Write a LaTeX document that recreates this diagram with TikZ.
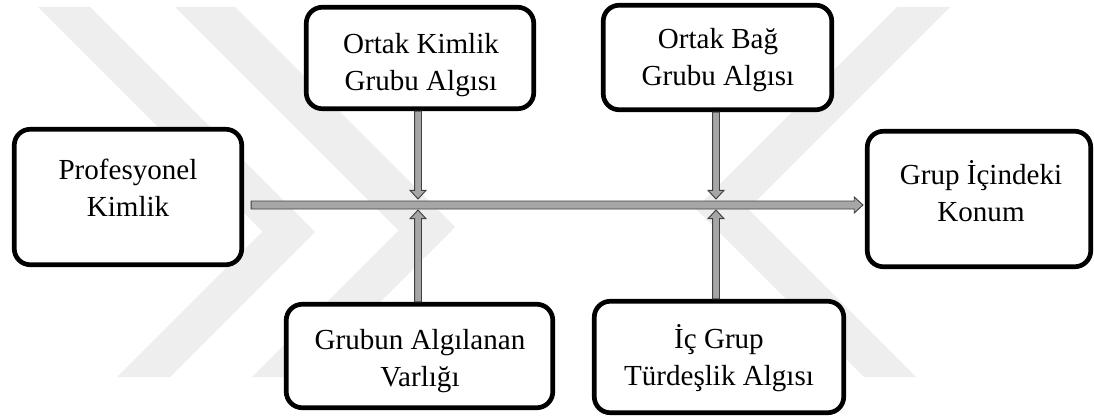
\documentclass[tikz,border=0pt]{standalone}
\usepackage{fontspec}
\setmainfont{Liberation Serif}
\usetikzlibrary{calc}
\definecolor{arrowfill}{HTML}{A6A6A6}
\definecolor{arrowline}{HTML}{404040}
\definecolor{wmgray}{HTML}{EEEEEE}
\tikzset{
  box/.style={draw=black, line width=3.5pt, rounded corners=12pt, fill=white, inner sep=0pt},
  lbl/.style={align=center, font=\fontsize{21.8}{27.5}\selectfont, inner sep=0pt},
  barrow/.style={fill=arrowfill, draw=arrowline, line width=0.7pt, line join=miter},
  wm/.style={fill=wmgray, draw=none},
}
\newcommand\blockarr[4]{%
  \path ($(#2)!6.5pt!(#1)$) coordinate (ba-h);
  \draw[barrow] ($(#1)!#3!90:(#2)$) -- ($(ba-h)!#3!-90:(#1)$) -- ($(ba-h)!#4!-90:(#1)$) -- (#2)
    -- ($(ba-h)!#4!90:(#1)$) -- ($(ba-h)!#3!90:(#1)$) -- ($(#1)!#3!-90:(#2)$) -- cycle;}
\begin{document}
\begin{tikzpicture}[x=0.75pt, y=-0.75pt]
\useasboundingbox (0,0) rectangle (1094,417);
\fill[white] (0,0) rectangle (1094,417);
% watermark
\begin{scope}
  \clip (0,7) rectangle (1094,377);
  \fill[wm] (38,7) -- (90,7) -- (315,232) -- (170,377) -- (117,377) -- (262.5,231.5) -- cycle;
  \fill[wm] (175,7) -- (235,7) -- (455,227) -- (305,377) -- (252,377) -- (398.5,230.5) -- cycle;
  \fill[wm] (897,7) -- (950,7) -- (748,209) -- (916,377) -- (864,377) -- (695.5,208.5) -- cycle;
\end{scope}
% boxes
\node[box, minimum width=170.6pt, minimum height=101.6pt] (prof) at (128,197) {};
\node[box, minimum width=170.6pt, minimum height=76.1pt] (ok) at (420,58) {};
\node[box, minimum width=171.4pt, minimum height=78.4pt] (ob) at (717.5,57.5) {};
\node[box, minimum width=167.6pt, minimum height=101.6pt] (gic) at (979,199) {};
\node[box, minimum width=199.9pt, minimum height=77.6pt] (gav) at (419.5,356) {};
\node[box, minimum width=187.1pt, minimum height=83.6pt] (icg) at (719,357) {};
% labels
\node[lbl] (profT) at (128,188) {Profesyonel\\Kimlik};
\node[lbl] (okT) at (421,65) {Ortak Kimlik\\Grubu Algısı};
\node[lbl] (obT) at (718,60) {Ortak Bağ\\Grubu Algısı};
\node[lbl] (gicT) at (981,191) {Grup İçindeki\\Konum};
\node[lbl] (gavT) at (420,361) {Grubun Algılanan\\Varlığı};
\node[lbl] (icgT) at (719,358) {İç Grup\\Türdeşlik Algısı};
% junctions
\coordinate (j1) at (418,205);
\coordinate (j2) at (716,205);
\coordinate (hs) at ($(prof.east |- j1)+(7,0)$);
\coordinate (he) at ($(gic.west |- j1)+(-2,0)$);
\coordinate (d1s) at (ok.south -| j1);
\coordinate (d1e) at ($(j1)+(0,-6)$);
\coordinate (u1s) at (gav.north -| j1);
\coordinate (u1e) at ($(j1)+(0,5)$);
\coordinate (d2s) at (ob.south -| j2);
\coordinate (d2e) at ($(j2)+(0,-6)$);
\coordinate (u2s) at (icg.north -| j2);
\coordinate (u2e) at ($(j2)+(0,5)$);
% arrows
\blockarr{hs}{he}{3pt}{6pt}
\blockarr{d1s}{d1e}{2.6pt}{6pt}
\blockarr{u1s}{u1e}{2.6pt}{6pt}
\blockarr{d2s}{d2e}{2.6pt}{6pt}
\blockarr{u2s}{u2e}{2.6pt}{6pt}
\end{tikzpicture}
\end{document}
